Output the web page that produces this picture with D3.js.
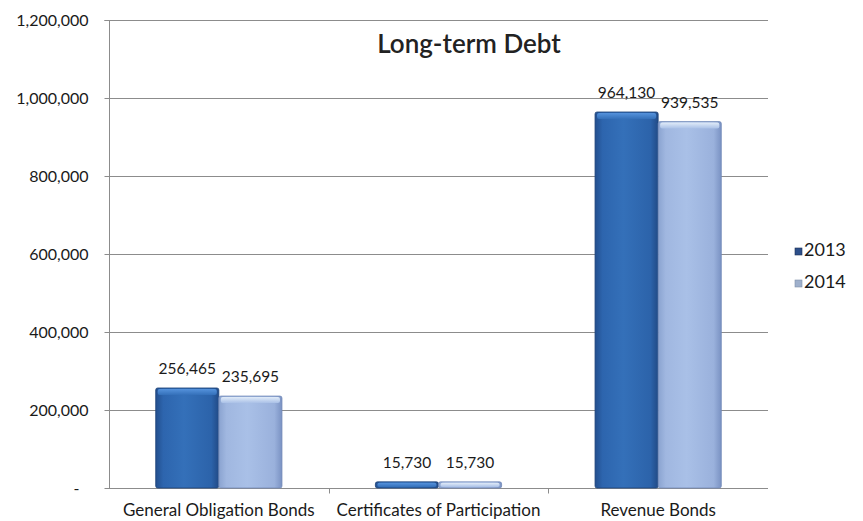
<!DOCTYPE html>
<html>
<head>
<meta charset="utf-8">
<script src="https://cdn.jsdelivr.net/npm/d3@7"></script>
<style>
  html, body { margin: 0; padding: 0; background: #fff; }
  svg { display: block; font-family: Lato, "Open Sans", sans-serif; }
</style>
</head>
<body>
<svg id="chart" width="863" height="521"></svg>
<script>
// Long-term debt by type, fiscal years 2013 and 2014
const categories = ["General Obligation Bonds", "Certificates of Participation", "Revenue Bonds"];
const years = ["2013", "2014"];
const values2013 = [256465, 15730, 964130];
const values2014 = [235695, 15730, 939535];
const yTicks = [0, 200000, 400000, 600000, 800000, 1000000, 1200000];

const rows = categories.map((c, i) => ({
  category: c,
  series: [
    { year: "2013", value: values2013[i] },
    { year: "2014", value: values2014[i] }
  ]
}));

const svg = d3.select("#chart");
const plotLeft = 109, plotRight = 768, plotTop = 20, plotBottom = 488;

const x0 = d3.scaleBand().domain(categories).range([plotLeft, plotRight]).paddingInner(0).paddingOuter(0);
const x1 = d3.scaleBand().domain(years).range([0, x0.bandwidth()]).paddingInner(0).paddingOuter(0.74);
const y = d3.scaleLinear().domain([0, 1200000]).range([plotBottom, plotTop]);

// Gradients give the bars a rounded, shaded look
const defs = svg.append("defs");
const palettes = {
  "2013": { stops: ["#234f8e", "#2d65ae", "#3470b9", "#2c63aa", "#214a86"], cap: "#5592dc", edge: "#1d4378" },
  "2014": { stops: ["#8aa3d0", "#a0b7e0", "#a9c0e7", "#9ab1dc", "#7a92c3"], cap: "#e0ebf8", edge: "#7189b8" }
};
years.forEach(yr => {
  const g = defs.append("linearGradient").attr("id", "grad" + yr)
    .attr("x1", "0%").attr("x2", "100%").attr("y1", "0%").attr("y2", "0%");
  const offs = [0, 0.12, 0.45, 0.88, 1];
  palettes[yr].stops.forEach((c, i) => g.append("stop").attr("offset", offs[i]).attr("stop-color", c));
  const cg = defs.append("linearGradient").attr("id", "cap" + yr)
    .attr("x1", "0%").attr("x2", "0%").attr("y1", "0%").attr("y2", "100%");
  cg.append("stop").attr("offset", 0).attr("stop-color", palettes[yr].cap);
  cg.append("stop").attr("offset", 1).attr("stop-color", palettes[yr].stops[2]);
});

// Horizontal gridlines
svg.append("g")
  .selectAll("line")
  .data(yTicks.filter(d => d > 0))
  .join("line")
  .attr("x1", plotLeft).attr("x2", plotRight)
  .attr("y1", d => Math.round(y(d)) + 0.5).attr("y2", d => Math.round(y(d)) + 0.5)
  .attr("stroke", "#8c8c8c").attr("stroke-width", 1);

// Y axis
const yAxis = d3.axisLeft(y)
  .tickValues(yTicks)
  .tickSize(5)
  .tickPadding(16)
  .tickFormat(d => d === 0 ? "-" : d3.format(",")(d));
const yg = svg.append("g").attr("transform", `translate(${plotLeft + 0.5},0)`).call(yAxis);
yg.select(".domain").attr("stroke", "#8c8c8c").attr("d", `M-5,${plotTop + 0.5}H0V${plotBottom + 0.5}`);
yg.selectAll(".tick line").attr("stroke", "#8c8c8c");
yg.selectAll(".tick text")
  .attr("font-size", 16).attr("fill", "#1a1a1a").attr("font-family", "Lato, sans-serif")
  .attr("dx", d => d === 0 ? -9 : 0);
yg.selectAll(".tick").attr("transform", d => `translate(0,${Math.round(y(d)) + 0.5})`);

// X axis
const xAxis = d3.axisBottom(x0).tickSize(0).tickPadding(15);
const xg = svg.append("g").attr("transform", `translate(0,${plotBottom + 0.5})`).call(xAxis);
xg.select(".domain").attr("stroke", "#8c8c8c").attr("d", `M${plotLeft},0H${plotRight}`);
xg.selectAll(".tick text").attr("font-size", 17).attr("fill", "#1a1a1a").attr("font-family", "Lato, sans-serif");
// Separators between categories
xg.append("g").selectAll("line")
  .data(categories.slice(1))
  .join("line")
  .attr("x1", d => Math.round(x0(d)) + 0.5).attr("x2", d => Math.round(x0(d)) + 0.5)
  .attr("y1", 0).attr("y2", 5)
  .attr("stroke", "#8c8c8c");

// Bars
const groups = svg.append("g").selectAll("g")
  .data(rows)
  .join("g")
  .attr("transform", d => `translate(${x0(d.category)},0)`);

const bars = groups.selectAll("g")
  .data(d => d.series)
  .join("g");

bars.append("rect")
  .attr("x", d => x1(d.year))
  .attr("y", d => y(d.value))
  .attr("width", x1.bandwidth())
  .attr("height", d => plotBottom - y(d.value))
  .attr("rx", 2)
  .attr("fill", d => `url(#grad${d.year})`)
  .attr("stroke", d => palettes[d.year].edge)
  .attr("stroke-width", 0.8);

bars.append("rect")
  .attr("x", d => x1(d.year) + 2)
  .attr("y", d => y(d.value) + 1)
  .attr("width", x1.bandwidth() - 4)
  .attr("height", d => Math.min(6, Math.max(1, plotBottom - y(d.value) - 2)))
  .attr("rx", 2)
  .attr("fill", d => `url(#cap${d.year})`);

// Value labels
bars.append("text")
  .attr("x", d => x1(d.year) + x1.bandwidth() / 2)
  .attr("y", d => y(d.value) - 14)
  .attr("text-anchor", "middle")
  .attr("font-size", 15.5)
  .attr("fill", "#1a1a1a")
  .text(d => d3.format(",")(d.value));

// Title
svg.append("text")
  .attr("x", 469).attr("y", 53)
  .attr("text-anchor", "middle")
  .attr("font-size", 26)
  .attr("font-weight", 600)
  .attr("fill", "#222")
  .text("Long-term Debt");

// Legend
const legend = svg.append("g").selectAll("g")
  .data(years)
  .join("g")
  .attr("transform", (d, i) => `translate(795,${248 + i * 32})`);
legend.append("rect")
  .attr("width", 7).attr("height", 7)
  .attr("fill", d => d === "2013" ? "#2d4f8a" : "#9fb0cc")
  .attr("stroke", d => d === "2013" ? "#1c2f55" : "#7f8fa8")
  .attr("stroke-width", 0.6);
legend.append("text")
  .attr("x", 9).attr("y", 8)
  .attr("font-size", 18)
  .attr("fill", "#1a1a1a")
  .text(d => d);
</script>
</body>
</html>
